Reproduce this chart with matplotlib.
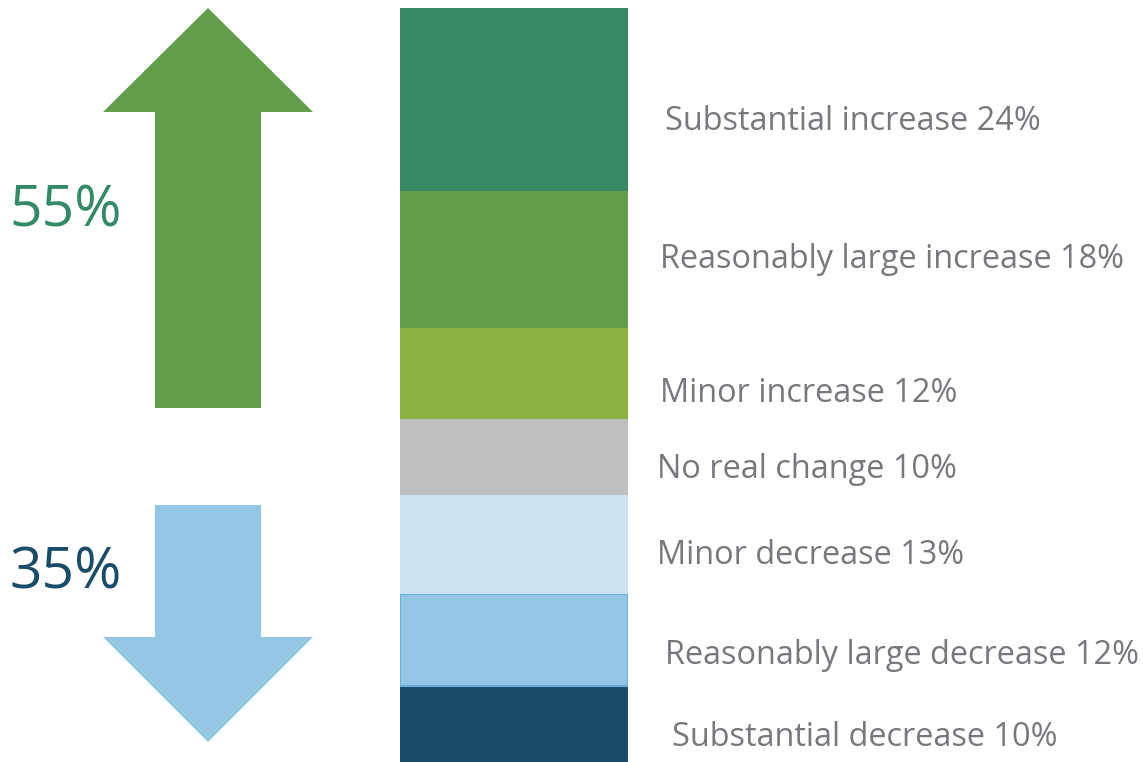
import matplotlib
matplotlib.use('Agg')
import matplotlib.pyplot as plt
from matplotlib.patches import FancyArrow
import numpy as np

plt.rcParams['font.family'] = ['Open Sans', 'DejaVu Sans']

# data, bottom to top of the stacked bar
categories = ['Substantial decrease', 'Reasonably large decrease', 'Minor decrease',
              'No real change', 'Minor increase', 'Reasonably large increase',
              'Substantial increase']
values = [10, 12, 13, 10, 12, 18, 24]
colors = ['#1A4C69', '#94C6E5', '#CAE2F1', '#BFBFBF', '#8DB141', '#629D4B', '#378A64']
increase_total = '55%'
decrease_total = '35%'

# label layout in pixels (left x, centre y), same order as categories
label_x = [672, 665, 657, 657, 660, 660, 665]
label_y = [737, 655, 555, 470, 394, 260, 122]

W, H = 1143, 762
fig = plt.figure(figsize=(W / 100, H / 100), dpi=100)

# overlay axes in pixel coordinates for arrows and text
ov = fig.add_axes([0, 0, 1, 1])
ov.set_xlim(0, W)
ov.set_ylim(H, 0)
ov.axis('off')

# stacked bar
ax = fig.add_axes([400 / W, 0, 228 / W, 754 / H])
bottoms = np.concatenate([[0], np.cumsum(values)[:-1]])
bars = ax.bar(0, values, bottom=bottoms, width=1, color=colors, linewidth=0)
bars[1].set_edgecolor('#6AAED9')
bars[1].set_linewidth(1.5)
ax.set_xlim(-0.5, 0.5)
ax.set_ylim(0, sum(values))
ax.axis('off')

# arrows
ov.add_patch(FancyArrow(208, 408, 0, -400, width=106, head_width=210, head_length=104,
                        length_includes_head=True, color='#629D4B', linewidth=0))
ov.add_patch(FancyArrow(208, 505, 0, 237, width=106, head_width=210, head_length=105,
                        length_includes_head=True, color='#94C6E5', linewidth=0))

ov.text(9, 212, increase_total, fontsize=41, color='#348A64', ha='left', va='center')
ov.text(9, 574, decrease_total, fontsize=41, color='#1A4C69', ha='left', va='center')

for cat, v, x, y in zip(categories, values, label_x, label_y):
    ov.text(x, y, f'{cat} {v}%', fontsize=23.4, color='#77777D', ha='left', va='center')

fig.savefig('out.png', dpi=100)
